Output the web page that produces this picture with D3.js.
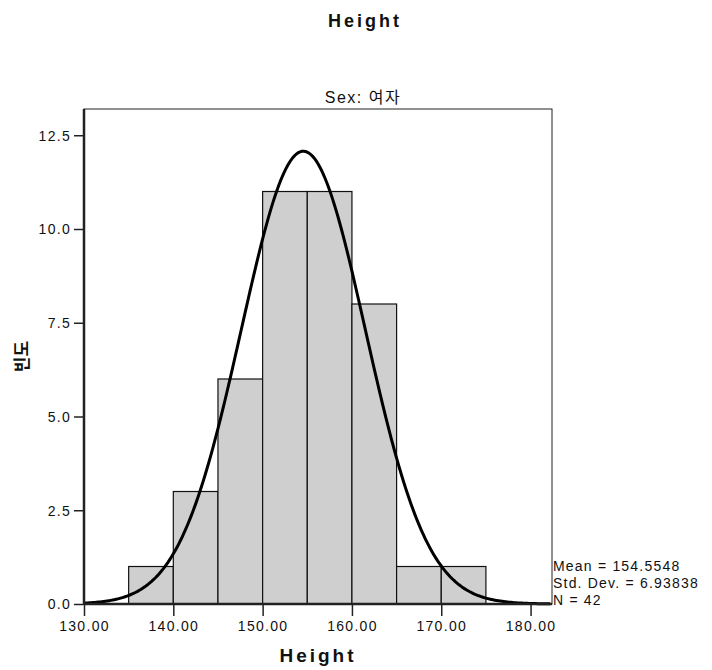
<!DOCTYPE html>
<html>
<head>
<meta charset="utf-8">
<script src="https://cdn.jsdelivr.net/npm/d3@7"></script>
<style>
  body { margin: 0; background: #fff; }
  text { font-family: "Liberation Sans", Arial, "Noto Sans CJK KR", sans-serif; fill: #111; }
</style>
</head>
<body>
<svg id="chart"></svg>
<script>
// histogram bins (lower edge) and counts
var binStarts = [135, 140, 145, 150, 155, 160, 165, 170];
var binWidth = 5;
var counts = [1, 3, 6, 11, 11, 8, 1, 1];

// stats printed in the legend, used for the fitted normal curve
var mean = 154.5548, stdDev = 6.93838, n = 42;

var xTicks = [130, 140, 150, 160, 170, 180];
var yTicks = [0, 2.5, 5, 7.5, 10, 12.5];

var W = 712, H = 670;
var frame = {left: 84, right: 552, top: 109, bottom: 604};

var svg = d3.select("#chart").attr("width", W).attr("height", H);

var x = d3.scaleLinear().domain([130, 182.4]).range([frame.left, frame.right]);
var y = d3.scaleLinear().domain([0, 13.2]).range([frame.bottom, frame.top]);

// frame
svg.append("rect")
    .attr("x", frame.left).attr("y", frame.top)
    .attr("width", frame.right - frame.left).attr("height", frame.bottom - frame.top)
    .attr("fill", "none").attr("stroke", "#222").attr("stroke-width", 1);

// bars
svg.selectAll(".bar")
    .data(binStarts)
  .enter().append("rect")
    .attr("class", "bar")
    .attr("x", function(d) { return x(d); })
    .attr("y", function(d, i) { return y(counts[i]); })
    .attr("width", function(d) { return x(d + binWidth) - x(d); })
    .attr("height", function(d, i) { return y(0) - y(counts[i]); })
    .attr("fill", "#cfcfcf")
    .attr("stroke", "#111")
    .attr("stroke-width", 1.2);

// normal curve scaled to the counts
var scaleFactor = n * binWidth / (stdDev * Math.sqrt(2 * Math.PI));
var curveData = d3.range(130, 182.4, 0.2).map(function(v) {
  var z = (v - mean) / stdDev;
  return [v, scaleFactor * Math.exp(-0.5 * z * z)];
});
svg.append("path")
    .datum(curveData)
    .attr("fill", "none")
    .attr("stroke", "#000")
    .attr("stroke-width", 3)
    .attr("d", d3.line().x(function(d) { return x(d[0]); }).y(function(d) { return y(d[1]); }));

// axes
var yAxis = d3.axisLeft(y).tickValues(yTicks).tickSize(10).tickPadding(3)
    .tickFormat(d3.format(".1f"));
var gy = svg.append("g").attr("transform", "translate(" + frame.left + ",0)").call(yAxis);

var xAxis = d3.axisBottom(x).tickValues(xTicks).tickSize(12).tickPadding(5)
    .tickFormat(d3.format(".2f"));
var gx = svg.append("g").attr("transform", "translate(0," + frame.bottom + ")").call(xAxis);

[gx, gy].forEach(function(g) {
  g.select(".domain").attr("stroke", "#222").attr("stroke-width", 2.5);
  g.selectAll(".tick line").attr("stroke", "#222").attr("stroke-width", 1.5);
  g.selectAll(".tick text").style("font-size", "14px").style("letter-spacing", "1.3px").attr("fill", "#111");
});
gx.select(".domain").attr("d", "M" + frame.left + ",0H" + frame.right);
gy.select(".domain").attr("d", "M0," + frame.bottom + "V" + frame.top);
gy.selectAll(".tick text").attr("dy", "0.35em");

// titles
svg.append("text").attr("x", 365).attr("y", 27).attr("text-anchor", "middle")
    .style("font-size", "18px").style("font-weight", "bold").style("letter-spacing", "3px").text("Height");
svg.append("text").attr("x", 363).attr("y", 103).attr("text-anchor", "middle")
    .style("font-size", "16px").style("letter-spacing", "1.5px").text("Sex: 여자");
svg.append("text").attr("x", (frame.left + frame.right) / 2).attr("y", 662).attr("text-anchor", "middle")
    .style("font-size", "19px").style("font-weight", "bold").style("letter-spacing", "3px").text("Height");
svg.append("text")
    .attr("transform", "translate(28," + ((frame.top + frame.bottom) / 2) + ") rotate(-90)")
    .attr("text-anchor", "middle")
    .style("font-size", "17px").style("font-weight", "bold").text("빈도");

// legend
var legendLines = ["Mean = " + mean, "Std. Dev. = " + stdDev, "N = " + n];
svg.selectAll(".legend")
    .data(legendLines)
  .enter().append("text")
    .attr("class", "legend")
    .attr("x", frame.right + 1)
    .attr("y", function(d, i) { return 571 + i * 17; })
    .style("font-size", "14px")
    .style("letter-spacing", "1.2px")
    .text(function(d) { return d; });
</script>
</body>
</html>
